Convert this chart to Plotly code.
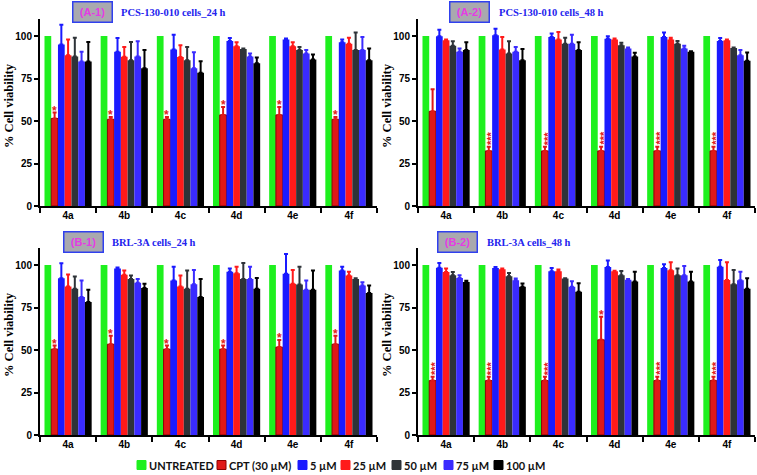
import plotly.graph_objects as go

W, H = 757, 475
OFF = 0  # the page's default body margin is removed below, so page px == figure px

groups = ["4a", "4b", "4c", "4d", "4e", "4f"]
series_names = ["UNTREATED", "CPT (30 µM)", "5 µM", "25 µM", "50 µM", "75 µM", "100 µM"]
series_colors = ["#1ef01e", "#e01818", "#1a1aff", "#ff1a1a", "#2e3338", "#3a2bff", "#000000"]
y_title = "% Cell viability"

untreated = [100, 100, 100, 100, 100, 100]

# Panel A-1 : PCS-130-010 cells, 24 h
a1_cpt = [51.5, 51, 51, 53.6, 53.6, 51]
a1_cpt_err = [3.5, 1.4, 1.4, 4.7, 4.7, 1.4]
a1_5 = [95, 90.7, 92, 97, 97.9, 96.3]
a1_5_err = [11.6, 8.1, 8.8, 1.8, 0.6, 1.6]
a1_25 = [88.7, 87.8, 87.6, 94, 94, 95.5]
a1_25_err = [9.3, 5.8, 7, 2.3, 2.3, 3.5]
a1_50 = [88, 85.8, 85.8, 92.4, 91.7, 91.7]
a1_50_err = [11, 10.7, 7.8, 0.3, 1.9, 10.3]
a1_75 = [85, 88, 81, 88, 89.7, 91.7]
a1_75_err = [5.7, 8.9, 9.5, 1.7, 2, 7.7]
a1_100 = [85, 81, 78.4, 83.9, 86.2, 85.8]
a1_100_err = [11.5, 10.7, 6.8, 3.5, 2.9, 6.8]
a1_stars = ["*", "*", "*", "*", "*", "*"]

# Panel A-2 : PCS-130-010 cells, 48 h
a2_cpt = [55.7, 32.4, 32.4, 32.4, 32.4, 32.4]
a2_cpt_err = [13, 2.4, 2.4, 2.4, 2.4, 2.4]
a2_5 = [99.8, 100.4, 99.4, 98.4, 99.4, 97]
a2_5_err = [3.9, 3.9, 2, 1.4, 2.6, 1.8]
a2_25 = [97.5, 92, 98, 98, 98, 97.5]
a2_25_err = [0.5, 7.4, 4.3, 0.5, 1, 0.5]
a2_50 = [94.2, 89.7, 95.5, 94.6, 95.5, 93]
a2_50_err = [2.7, 7.2, 3.5, 1.4, 1.6, 0.2]
a2_75 = [90.7, 90.7, 95.5, 92.6, 92.6, 88.7]
a2_75_err = [1.9, 2.9, 5.3, 0.6, 1.6, 3]
a2_100 = [91.7, 85.8, 91.7, 88, 90.7, 85.4]
a2_100_err = [4.6, 6.6, 4.6, 2.1, 0.3, 4.9]
a2_stars = ["", "***", "***", "***", "***", "***"]

# Panel B-1 : BRL-3A cells, 24 h
b1_cpt = [50.5, 53.4, 50.5, 50.5, 51.7, 53.4]
b1_cpt_err = [2.1, 5, 2.1, 2.1, 4.2, 5]
b1_5 = [92.2, 98, 90.9, 96.1, 94.8, 96.7]
b1_5_err = [8.8, 0.6, 8.1, 1.9, 11.6, 2.3]
b1_25 = [87.4, 94.2, 87.4, 95.1, 88.9, 93.8]
b1_25_err = [7, 2.5, 6.4, 3.9, 8.2, 2.3]
b1_50 = [86, 91.8, 86, 91.8, 88.5, 91.8]
b1_50_err = [7.2, 2, 10.7, 9.4, 10.5, 0.4]
b1_75 = [81.2, 89.5, 88.7, 91.8, 85.4, 88]
b1_75_err = [9.7, 2.3, 8.4, 7.2, 5.5, 1.9]
b1_100 = [78.3, 86.4, 81.2, 86, 85.4, 83.5]
b1_100_err = [7.1, 2.5, 10.6, 6.4, 11.3, 4.5]
b1_stars = ["*", "*", "*", "*", "*", "*"]

# Panel B-2 : BRL-3A cells, 48 h
b2_cpt = [32, 32, 32, 56, 32, 32]
b2_cpt_err = [2.2, 2.2, 2.2, 13.5, 2.2, 2.2]
b2_5 = [98.4, 98.3, 96.3, 98.8, 98.3, 99]
b2_5_err = [2.8, 0.5, 2, 3.9, 2.1, 4]
b2_25 = [95.9, 97.5, 96.3, 96.3, 96.9, 91.2]
b2_25_err = [2, 0.4, 1, 0.3, 4.7, 10.4]
b2_50 = [94, 93.4, 92, 94, 94, 88.7]
b2_50_err = [1.9, 1.9, 0.2, 2.5, 3.9, 8.4]
b2_75 = [92.4, 91, 87.2, 91.3, 94, 91]
b2_75_err = [1.6, 1, 3.3, 0.5, 5.4, 5.1]
b2_100 = [90, 87.2, 84.3, 90.3, 90.3, 86]
b2_100_err = [0.7, 1.9, 5, 5.8, 5.8, 6.2]
b2_stars = ["***", "***", "***", "*", "***", "***"]

panel_tags = ["(A-1)", "(A-2)", "(B-1)", "(B-2)"]
panel_titles = ["PCS-130-010 cells_24 h", "PCS-130-010 cells_48 h",
                "BRL-3A cells_24 h", "BRL-3A cells_48 h"]

panels = [
    ([untreated, a1_cpt, a1_5, a1_25, a1_50, a1_75, a1_100],
     [None, a1_cpt_err, a1_5_err, a1_25_err, a1_50_err, a1_75_err, a1_100_err], a1_stars),
    ([untreated, a2_cpt, a2_5, a2_25, a2_50, a2_75, a2_100],
     [None, a2_cpt_err, a2_5_err, a2_25_err, a2_50_err, a2_75_err, a2_100_err], a2_stars),
    ([untreated, b1_cpt, b1_5, b1_25, b1_50, b1_75, b1_100],
     [None, b1_cpt_err, b1_5_err, b1_25_err, b1_50_err, b1_75_err, b1_100_err], b1_stars),
    ([untreated, b2_cpt, b2_5, b2_25, b2_50, b2_75, b2_100],
     [None, b2_cpt_err, b2_5_err, b2_25_err, b2_50_err, b2_75_err, b2_100_err], b2_stars),
]


def px_x(px):
    return (px - OFF) / W


def px_y(py):
    return 1 - (py - OFF) / H


# layout geometry (page pixels)
x_doms_px = [(40, 377), (418, 755), (40, 377), (418, 755)]
y_doms_px = [(19, 206), (19, 206), (248, 435), (248, 435)]
tag_pos_px = [(92, 12), (470, 12), (83.5, 242), (457.5, 242)]
title_pos_px = [(119, 12), (497, 12), (110, 242), (485, 242)]
ytitle_pos_px = [(9, 106), (387, 106), (9, 335), (387, 335)]
legend_swatch_px = [137, 217, 298, 341, 392, 444, 494]
legend_y_px = 465
BARGAP = 0.16

fig = go.Figure()
annotations = []
shapes = []
sans = "Liberation Sans, Arial, sans-serif"
serif = "Liberation Serif, Times New Roman, serif"

for p, (vals, errs, stars) in enumerate(panels):
    xa = "x" if p == 0 else f"x{p+1}"
    ya = "y" if p == 0 else f"y{p+1}"
    for s in range(7):
        kw = {}
        if errs[s] is not None:
            kw["error_y"] = dict(type="data", symmetric=False, array=errs[s],
                                 arrayminus=[0] * len(errs[s]),
                                 color=series_colors[s], thickness=2, width=2)
        fig.add_trace(go.Bar(
            x=groups, y=vals[s], name=series_names[s],
            marker=dict(color=series_colors[s],
                        line=dict(color="#8a0000" if s == 1 else series_colors[s],
                                  width=1 if s == 1 else 0)),
            xaxis=xa, yaxis=ya, showlegend=False,
            **kw))
    # significance stars above CPT bars (CPT is 2nd of 7 bars -> offset -2 bar widths)
    dom_w = x_doms_px[p][1] - x_doms_px[p][0]
    bar_w = dom_w / len(groups) * (1 - BARGAP) / 7
    for g, st in enumerate(stars):
        if not st:
            continue
        top = vals[1][g] + errs[1][g]
        multi = len(st) > 1
        annotations.append(dict(
            xref=xa, yref=ya, x=groups[g], y=top,
            yanchor="bottom" if multi else "middle", xanchor="center",
            xshift=-2 * bar_w + (2.5 if multi else 0), yshift=0 if multi else 2,
            text=st, showarrow=False, textangle=-90 if multi else 0,
            font=dict(color="#e02020", size=11 if multi else 12, family=sans, weight="bold")))
    # y-axis title
    yx, yy = ytitle_pos_px[p]
    annotations.append(dict(
        xref="paper", yref="paper", x=px_x(yx), y=px_y(yy), xanchor="center",
        yanchor="middle", text=y_title, textangle=-90, showarrow=False,
        font=dict(size=12.5, color="black", family=serif, weight="bold")))
    # panel tag box and title
    tx, ty = tag_pos_px[p]
    annotations.append(dict(
        xref="paper", yref="paper", x=px_x(tx), y=px_y(ty), xanchor="center", yanchor="middle",
        text=panel_tags[p], showarrow=False, bgcolor="#a9a9ae", bordercolor="#3040ee",
        borderwidth=1.5, borderpad=2, width=34, height=15,
        font=dict(color="#e43ce4", size=11, family=sans, weight="bold")))
    lx, ly = title_pos_px[p]
    annotations.append(dict(
        xref="paper", yref="paper", x=px_x(lx), y=px_y(ly), xanchor="left", yanchor="middle",
        text=panel_titles[p], showarrow=False,
        font=dict(color="#2323ee", size=10.5, family=serif, weight="bold")))

# legend (swatches + labels)
for s in range(7):
    x0 = legend_swatch_px[s]
    shapes.append(dict(type="rect", xref="paper", yref="paper",
                       x0=px_x(x0), x1=px_x(x0 + 9),
                       y0=px_y(legend_y_px + 4.5), y1=px_y(legend_y_px - 4.5),
                       fillcolor=series_colors[s],
                       line=dict(color="#8a0000" if s == 1 else series_colors[s], width=1)))
    annotations.append(dict(
        xref="paper", yref="paper", x=px_x(x0 + 10), y=px_y(legend_y_px),
        xanchor="left", yanchor="middle", text=series_names[s], showarrow=False,
        font=dict(size=11, color="#111111", family="Lato, Liberation Sans, sans-serif",
                  weight="bold")))

axis_common_x = dict(type="category", categoryorder="array", categoryarray=groups,
                     tickson="boundaries", ticks="outside", ticklen=5, tickwidth=1.5,
                     tickcolor="black", showline=True, linewidth=2, linecolor="black",
                     showgrid=False, zeroline=False, automargin=False,
                     ticklabelstandoff=-1,
                     tickfont=dict(size=10, color="black", family=sans, weight="bold"))
axis_common_y = dict(range=[0, 110], tickvals=[0, 25, 50, 75, 100], ticks="outside",
                     ticklen=4, tickwidth=1.5, tickcolor="black", showline=True,
                     linewidth=2, linecolor="black", showgrid=False, zeroline=False,
                     automargin=False,
                     tickfont=dict(size=10, color="black", family=sans, weight="bold"))

layout = dict(
    width=W, height=H, template="none",
    margin=dict(l=0, r=0, t=0, b=0),
    paper_bgcolor="white", plot_bgcolor="white",
    barmode="group", bargap=BARGAP, bargroupgap=0,
    showlegend=False, hovermode=False,
    annotations=annotations, shapes=shapes,
)
for p in range(4):
    xk = "xaxis" if p == 0 else f"xaxis{p+1}"
    yk = "yaxis" if p == 0 else f"yaxis{p+1}"
    xa = "x" if p == 0 else f"x{p+1}"
    ya = "y" if p == 0 else f"y{p+1}"
    x0, x1 = x_doms_px[p]
    y0, y1 = y_doms_px[p]
    layout[xk] = dict(axis_common_x, domain=[px_x(x0), px_x(x1)], anchor=ya)
    layout[yk] = dict(axis_common_y, domain=[px_y(y1), px_y(y0)], anchor=xa)

fig.update_layout(**layout)
fig.write_html("out.html", config={"displayModeBar": False},
               post_script="document.body.style.margin='0';document.body.style.overflow='hidden';")
